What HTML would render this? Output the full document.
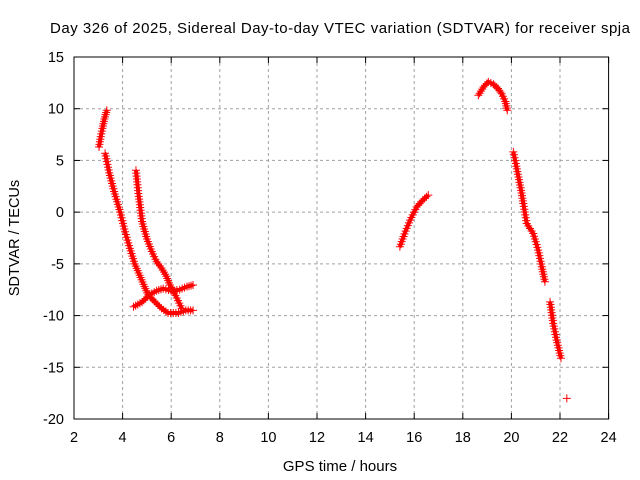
<!DOCTYPE html>
<html><head><meta charset="utf-8"><style>
body{margin:0;background:#fff}
svg{display:block;font-family:"Liberation Sans",sans-serif}
</style></head><body>
<svg id="chart" width="640" height="480" xmlns="http://www.w3.org/2000/svg">
<text x="50" y="33" font-size="15" textLength="580" lengthAdjust="spacing">Day 326 of 2025, Sidereal Day-to-day VTEC variation (SDTVAR) for receiver spja</text>
<text x="340" y="471" font-size="15" text-anchor="middle">GPS time / hours</text>
<text transform="translate(19,238) rotate(-90)" font-size="14.5" text-anchor="middle">SDTVAR / TECUs</text>
<g id="grid"></g><g id="ticks"></g><g id="marks"></g>
<rect x="74" y="57" width="534.6" height="362" fill="none" stroke="#000" stroke-width="1"/>
</svg>
<script>
const xTicks=[2,4,6,8,10,12,14,16,18,20,22,24];
const yTicks=[15,10,5,0,-5,-10,-15,-20];
const trackA=[[3.03,6.3],[3.1,7.3],[3.17,8.1],[3.25,9],[3.35,9.85]];
const trackB=[[3.28,5.7],[3.45,3.8],[3.65,2],[3.9,0],[4.1,-1.9],[4.3,-3.5],[4.5,-5],[4.7,-6.1],[4.9,-7.2],[5.05,-8],[5.3,-8.6],[5.6,-9.3],[5.87,-9.75],[6.3,-9.75],[6.6,-9.5],[6.9,-9.5]];
const trackC=[[4.55,4.05],[4.65,1.8],[4.8,-0.9],[5.0,-2.6],[5.2,-3.8],[5.4,-4.8],[5.6,-5.4],[5.8,-6.2],[5.95,-7.05],[6.23,-8.3],[6.43,-9.3]];
const trackD=[[4.45,-9.15],[4.8,-8.7],[5.1,-8],[5.4,-7.6],[5.67,-7.4],[6.0,-7.6],[6.35,-7.5],[6.65,-7.2],[6.9,-7.05]];
const trackE=[[15.41,-3.35],[15.6,-2.1],[15.83,-0.77],[16.1,0.5],[16.35,1.15],[16.58,1.65]];
const trackF=[[18.64,11.3],[18.85,12.1],[19.05,12.6],[19.26,12.37],[19.45,11.95],[19.6,11.45],[19.75,10.7],[19.83,9.85]];
const trackG=[[20.08,5.83],[20.18,4.7],[20.29,3.4],[20.4,2.1],[20.49,0.84],[20.63,-1.1],[20.9,-2.06],[21.1,-3.67],[21.25,-5.28],[21.38,-6.73]];
const trackH=[[21.59,-8.67],[21.72,-10.75],[21.86,-12.37],[22.04,-14.13]];
const single=[[22.28,-18.0]];
const tracks=[trackA,trackB,trackC,trackD,trackE,trackF,trackG,trackH,single];
const X0=74,X1=608.6,Y0=57,Y1=419;
const xs=v=>X0+(v-2)/22*(X1-X0);
const ys=v=>Y1-(v+20)/35*(Y1-Y0);
const NS="http://www.w3.org/2000/svg";
function mk(t,a,p){const e=document.createElementNS(NS,t);for(const k in a)e.setAttribute(k,a[k]);p.appendChild(e);return e;}
const grid=document.getElementById('grid'),ticks=document.getElementById('ticks'),marks=document.getElementById('marks');
xTicks.forEach(v=>{const x=xs(v);
 if(v>2&&v<24){const l=mk('line',{x1:x,x2:x,y1:Y0,y2:Y1,stroke:'#a0a0a0','stroke-dasharray':'3,3'},grid);
 
 }
 mk('line',{x1:x,x2:x,y1:Y1,y2:Y1-6,stroke:'#000'},ticks);mk('line',{x1:x,x2:x,y1:Y0,y2:Y0+6,stroke:'#000'},ticks);
 const t=mk('text',{x:x,y:Y1+23,'font-size':'14.5','text-anchor':'middle'},ticks);t.textContent=v;
 
 });
yTicks.forEach(v=>{const y=ys(v);
 if(v<15&&v>-20){const l=mk('line',{x1:X0,x2:X1,y1:y,y2:y,stroke:'#a0a0a0','stroke-dasharray':'3,3'},grid);
 
 }
 mk('line',{x1:X0,x2:X0+6,y1:y,y2:y,stroke:'#000'},ticks);mk('line',{x1:X1,x2:X1-6,y1:y,y2:y,stroke:'#000'},ticks);
 const t=mk('text',{x:X0-10,y:y+5,'font-size':'14.5','text-anchor':'end'},ticks);t.textContent=v;
 
 });
function cross(x,y,g){mk('path',{d:`M${x-4},${y}H${x+4}M${x},${y-4}V${y+4}`,stroke:'#f00','stroke-width':1},g);}
tracks.forEach(tr=>{const g=mk('g',{},marks);
 
 
 if(tr.length>1){mk('polyline',{points:tr.map(p=>xs(p[0])+','+ys(p[1])).join(' '),fill:'none',stroke:'#f00','stroke-width':4,'stroke-linejoin':'round'},g);}
 for(let i=0;i<tr.length;i++){const x=xs(tr[i][0]),y=ys(tr[i][1]);cross(x,y,g);
  if(i<tr.length-1){const x2=xs(tr[i+1][0]),y2=ys(tr[i+1][1]);const n=Math.ceil(Math.hypot(x2-x,y2-y)/3);
   for(let k=1;k<n;k++)cross(x+(x2-x)*k/n,y+(y2-y)*k/n,g);}}
});
</script>
</body></html>
